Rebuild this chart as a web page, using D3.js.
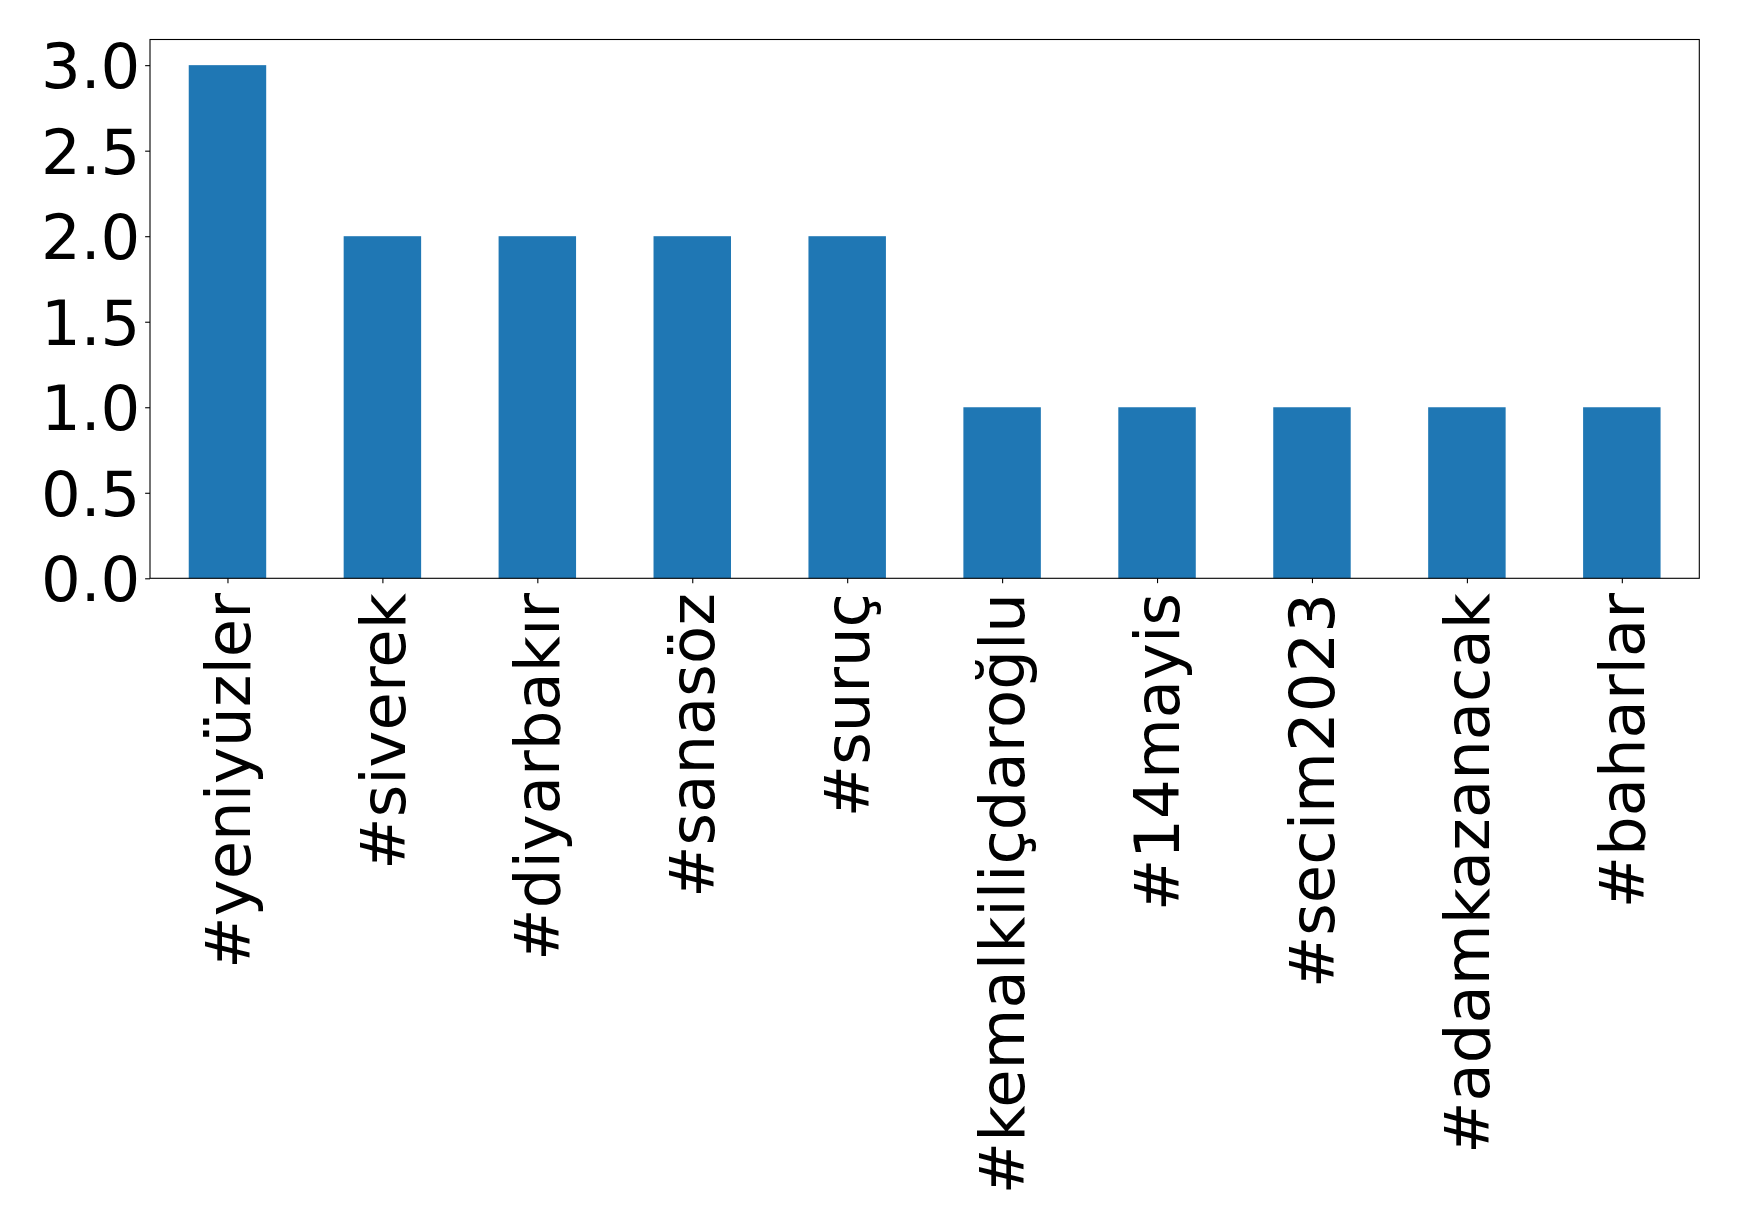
<!DOCTYPE html>
<html>
<head>
<meta charset="utf-8">
<script src="https://cdn.jsdelivr.net/npm/d3@7"></script>
<style>
  html, body { margin: 0; padding: 0; background: #fff; }
  svg { display: block; }
  text { font-family: "DejaVu Sans", sans-serif; fill: #000; }
</style>
</head>
<body>
<script>
const categories = ["#yeniyüzler", "#siverek", "#diyarbakır", "#sanasöz", "#suruç", "#kemalkiliçdaroğlu", "#14mayis", "#secim2023", "#adamkazanacak", "#baharlar"];
const values = [3, 2, 2, 2, 2, 1, 1, 1, 1, 1];
const yTicks = [0, 0.5, 1.0, 1.5, 2.0, 2.5, 3.0];

const W = 1739, H = 1229;
const mLeft = 150, mRight = 1699.3, mTop = 39.5, mBottom = 578.3;
const fontSize = 62.5;
const tickLen = 4.86, pad = 4.86;

const svg = d3.select("body").append("svg").attr("width", W).attr("height", H);

const x = d3.scaleLinear().domain([-0.5, categories.length - 0.5]).range([mLeft, mRight]);
const y = d3.scaleLinear().domain([0, 3.15]).range([mBottom, mTop]);
const barW = 0.5;

svg.append("g").selectAll("rect").data(values).join("rect")
  .attr("x", (d, i) => x(i - barW / 2))
  .attr("width", (d, i) => x(i + barW / 2) - x(i - barW / 2))
  .attr("y", d => y(d))
  .attr("height", d => y(0) - y(d))
  .attr("fill", "#1f77b4");

// frame
svg.append("rect").attr("x", mLeft).attr("y", mTop)
  .attr("width", mRight - mLeft).attr("height", mBottom - mTop)
  .attr("fill", "none").attr("stroke", "#000").attr("stroke-width", 1.1);

// y axis
const yAxis = d3.axisLeft(y).tickValues(yTicks).tickFormat(d3.format(".1f"))
  .tickSize(tickLen).tickPadding(pad);
const gy = svg.append("g").attr("transform", `translate(${mLeft},0)`).call(yAxis);
gy.select(".domain").remove();
gy.selectAll(".tick line").attr("stroke", "#000").attr("stroke-width", 1.1);
gy.selectAll(".tick text").attr("font-size", fontSize).attr("font-family", "DejaVu Sans")
  .attr("fill", "#000").attr("dy", "0.36em");

// x axis
const xAxis = d3.axisBottom(x).tickValues(d3.range(categories.length))
  .tickFormat(i => categories[i]).tickSize(tickLen).tickPadding(pad);
const gx = svg.append("g").attr("transform", `translate(0,${mBottom})`).call(xAxis);
gx.select(".domain").remove();
gx.selectAll(".tick line").attr("stroke", "#000").attr("stroke-width", 1.1);
gx.selectAll(".tick text")
  .attr("font-size", fontSize).attr("font-family", "DejaVu Sans").attr("fill", "#000")
  .attr("text-anchor", "end")
  .attr("y", 0).attr("dy", "0.346em")
  .attr("transform", `translate(0,${tickLen + pad + 5}) rotate(-90)`);
</script>
</body>
</html>
